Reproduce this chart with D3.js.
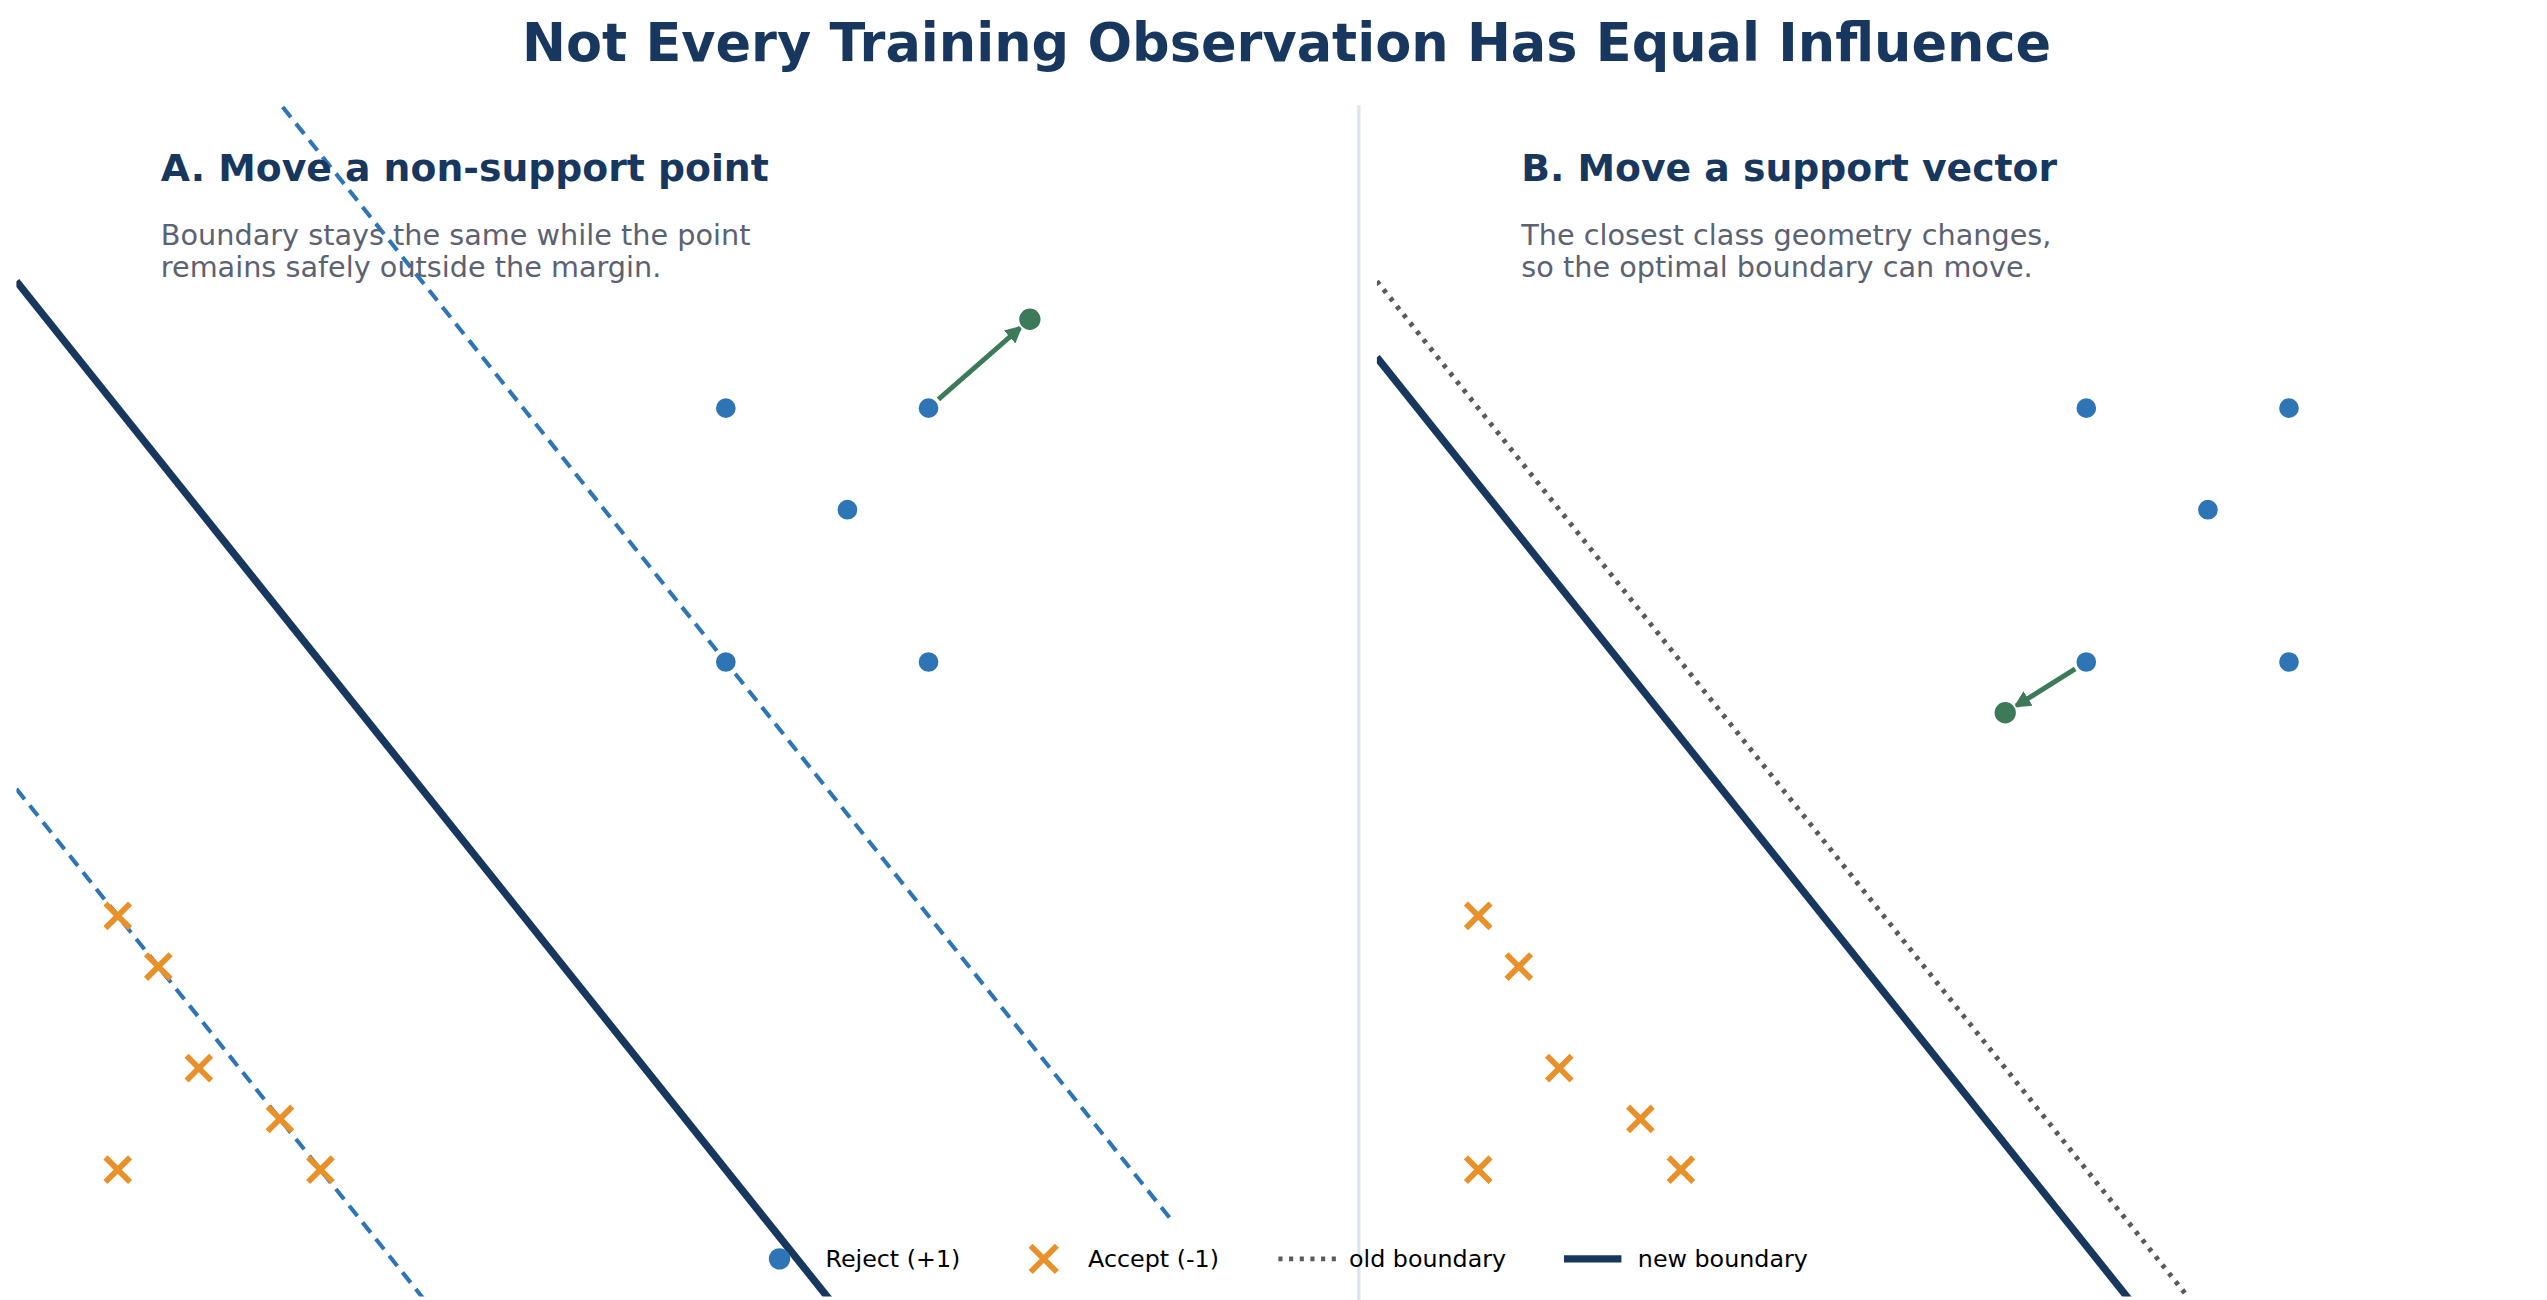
<!DOCTYPE html>
<html><head><meta charset="utf-8">
<script src="https://cdn.jsdelivr.net/npm/d3@7"></script>
<style>body{margin:0;background:#fff}text{font-family:"DejaVu Sans",sans-serif}</style>
</head><body>
<script>
const rejectPts = [[16,16],[21,16],[19,14],[16,11],[21,11]];
const acceptPts = [[1,6],[2,5],[3,3],[5,2],[1,1],[6,1]];
const movedA = {from:[21,16], to:[23.5,17.75]};
const movedB = {from:[16,11], to:[14,10]};
const boundaryA = 17, marginLow = 7, marginHigh = 27;
const oldBoundaryB = 17, newBoundaryB = 15.5;
const xDomain = [-1.5, 27], yDomain = [-1.5, 22];

const C = {navy:"#17375e", blue:"#2e75b6", orange:"#e8912a", green:"#3d7a5a", grey:"#5b6272", dot:"#5a5a5a"};
const svg = d3.select("body").append("svg").attr("width",2547).attr("height",1300)
  .attr("viewBox","0 0 1552 792");
svg.append("text").attr("x",784).attr("y",37).attr("text-anchor","middle")
  .attr("font-size",32).attr("font-weight","bold").attr("fill",C.navy)
  .text("Not Every Training Observation Has Equal Influence");
svg.append("line").attr("x1",828).attr("x2",828).attr("y1",64).attr("y2",792)
  .attr("stroke","#dde4ec").attr("stroke-width",2);
const defs = svg.append("defs");
defs.append("marker").attr("id","ah").attr("viewBox","0 0 10 10").attr("refX",8).attr("refY",5)
  .attr("markerWidth",3.5).attr("markerHeight",3.5).attr("orient","auto")
  .append("path").attr("d","M0,0L10,5L0,10z").attr("fill",C.green);

function panel(x0, id, heading, desc, isA){
  const x = d3.scaleLinear().domain(xDomain).range([x0, x0+704]);
  const y = d3.scaleLinear().domain(yDomain).range([790, 63]);
  defs.append("clipPath").attr("id",id).append("rect")
    .attr("x",x0).attr("y",63).attr("width",704).attr("height",727);
  const g = svg.append("g");
  const lg = g.append("g").attr("clip-path",`url(#${id})`);
  const line = c => d3.line()([[xDomain[0],c-xDomain[0]].map((v,i)=>i?y(v):x(v)),[x(xDomain[1]),y(c-xDomain[1])]]);
  g.append("text").attr("x",x0+88).attr("y",110).attr("font-size",23).attr("font-weight","bold")
    .attr("fill",C.navy).text(heading);
  desc.forEach((t,i)=>g.append("text").attr("x",x0+88).attr("y",149+i*20).attr("font-size",17.5)
    .attr("fill",C.grey).text(t));
  if(isA){
    [marginLow, marginHigh].forEach(c=>lg.append("path").attr("d",line(c)).attr("stroke",C.blue)
      .attr("stroke-width",2.5).attr("stroke-dasharray","8,5").attr("fill","none"));
    lg.append("path").attr("d",line(boundaryA)).attr("stroke",C.navy).attr("stroke-width",4.5).attr("fill","none");
  } else {
    lg.append("path").attr("d",line(oldBoundaryB)).attr("stroke",C.dot).attr("stroke-width",3)
      .attr("stroke-dasharray","2.5,4").attr("fill","none");
    lg.append("path").attr("d",line(newBoundaryB)).attr("stroke",C.navy).attr("stroke-width",4.5).attr("fill","none");
  }
  const mv = isA ? movedA : movedB;
  const pts = isA ? rejectPts : rejectPts.filter(p=>!(p[0]===mv.from[0]&&p[1]===mv.from[1]));
  g.selectAll(".r").data(pts).join("circle").attr("cx",d=>x(d[0])).attr("cy",d=>y(d[1]))
    .attr("r",6.5).attr("fill",C.blue).attr("stroke","#fff").attr("stroke-width",1);
  if(!isA) g.append("circle").attr("cx",x(mv.from[0])).attr("cy",y(mv.from[1])).attr("r",6.5).attr("fill",C.blue).attr("stroke","#fff");
  g.selectAll(".a").data(acceptPts).join("path")
    .attr("d",d=>{const cx=x(d[0]),cy=y(d[1]),s=7.5;return `M${cx-s},${cy-s}L${cx+s},${cy+s}M${cx-s},${cy+s}L${cx+s},${cy-s}`;})
    .attr("stroke",C.orange).attr("stroke-width",3.5);
  const fx=x(mv.from[0]),fy=y(mv.from[1]),tx=x(mv.to[0]),ty=y(mv.to[1]);
  const L=Math.hypot(tx-fx,ty-fy),ux=(tx-fx)/L,uy=(ty-fy)/L;
  g.append("line").attr("x1",fx+ux*8).attr("y1",fy+uy*8).attr("x2",tx-ux*8).attr("y2",ty-uy*8)
    .attr("stroke",C.green).attr("stroke-width",3).attr("marker-end","url(#ah)");
  g.append("circle").attr("cx",tx).attr("cy",ty).attr("r",7).attr("fill",C.green).attr("stroke","#fff");
}
panel(10,"ca","A. Move a non-support point",["Boundary stays the same while the point","remains safely outside the margin."],true);
panel(839,"cb","B. Move a support vector",["The closest class geometry changes,","so the optimal boundary can move."],false);

const leg = svg.append("g").attr("font-size",14.5);
leg.append("circle").attr("cx",475).attr("cy",767).attr("r",6.5).attr("fill",C.blue);
leg.append("text").attr("x",503).attr("y",772).text("Reject (+1)");
leg.append("path").attr("d","M628,759L644,775M628,775L644,759").attr("stroke",C.orange).attr("stroke-width",3.5);
leg.append("text").attr("x",663).attr("y",772).text("Accept (-1)");
leg.append("line").attr("x1",779).attr("x2",814).attr("y1",767).attr("y2",767).attr("stroke",C.dot).attr("stroke-width",3).attr("stroke-dasharray","2.5,4");
leg.append("text").attr("x",822).attr("y",772).text("old boundary");
leg.append("line").attr("x1",953).attr("x2",988).attr("y1",767).attr("y2",767).attr("stroke",C.navy).attr("stroke-width",4.5);
leg.append("text").attr("x",998).attr("y",772).text("new boundary");
</script></body></html>
